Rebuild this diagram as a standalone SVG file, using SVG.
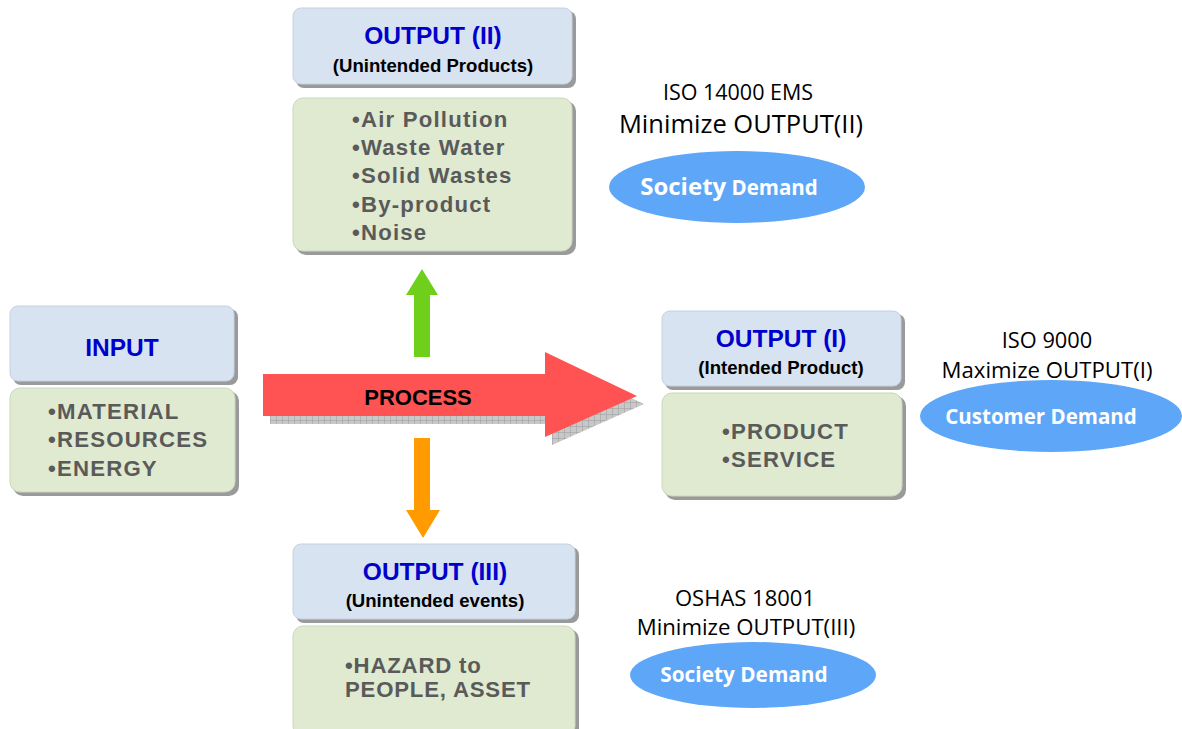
<svg xmlns="http://www.w3.org/2000/svg" width="1182" height="729" viewBox="0 0 1182 729">
<style>
.hd{fill:#d8e3f1;stroke:#c6d2e2;stroke-width:1}
.bd{fill:#dfead0;stroke:#cbd8bd;stroke-width:1}
.sh{fill:#9a9a9a}
.t1{font-family:"Liberation Sans",Arial,sans-serif;font-weight:bold;font-size:24.5px;fill:#0000cc;text-anchor:middle}
.t2{font-family:"Liberation Sans",Arial,sans-serif;font-weight:bold;font-size:18.6px;fill:#000;text-anchor:middle}
.bl{font-family:"Liberation Sans",Arial,sans-serif;font-weight:bold;font-size:22.2px;fill:#5a5a5a;letter-spacing:1.2px}
.nt{font-family:"Open Sans","Liberation Sans",sans-serif;fill:#000;text-anchor:middle}
.el{fill:#5ea6f7}
.et{font-family:"Open Sans","Liberation Sans",sans-serif;font-weight:bold;fill:#fff;text-anchor:middle}
</style>
<defs>
<pattern id="grid" width="6" height="6" patternUnits="userSpaceOnUse">
<rect width="6" height="6" fill="#c8c8c8"/>
<path d="M0 0H6M0 0V6" stroke="#9c9c9c" stroke-width="1"/>
</pattern>
</defs>
<g id="connectors">
<polygon points="270,382 552,382 552,360 644,404 552,445 552,424 270,424" fill="url(#grid)"/>
<polygon points="263,374 545,374 545,352 637,396 545,437 545,416 263,416" fill="#ff5252"/>
<text x="418" y="405" font-family="Liberation Sans,Arial,sans-serif" font-weight="bold" font-size="22" text-anchor="middle" fill="#000">PROCESS</text>
<polygon points="414,357 414,295 406,295 422,269 438,295 430,295 430,357" fill="#6fd01c"/>
<polygon points="414,438 430,438 430,510 440,510 423,538 406,510 414,510" fill="#ff9a00"/>
</g>
<g id="output2">
<rect class="sh" x="296" y="11" width="280" height="77" rx="8"/>
<rect class="hd" x="293" y="8" width="279" height="76" rx="8"/>
<text class="t1" x="433" y="44">OUTPUT (II)</text>
<text class="t2" x="433" y="72">(Unintended Products)</text>
<rect class="sh" x="296" y="101" width="280" height="154" rx="10"/>
<rect class="bd" x="293" y="98" width="279" height="153" rx="10"/>
<text class="bl" x="352" y="127">•Air Pollution</text>
<text class="bl" x="352" y="155">•Waste Water</text>
<text class="bl" x="352" y="183">•Solid Wastes</text>
<text class="bl" x="352" y="212">•By-product</text>
<text class="bl" x="352" y="240">•Noise</text>
</g>
<g id="input">
<rect class="sh" x="13" y="309" width="225" height="76" rx="8"/>
<rect class="hd" x="10" y="306" width="224" height="75" rx="8"/>
<text class="t1" x="122" y="356">INPUT</text>
<rect class="sh" x="13" y="391" width="226" height="105" rx="10"/>
<rect class="bd" x="10" y="388" width="225" height="104" rx="10"/>
<text class="bl" x="48" y="419">•MATERIAL</text>
<text class="bl" x="48" y="447">•RESOURCES</text>
<text class="bl" x="48" y="476">•ENERGY</text>
</g>
<g id="output1">
<rect class="sh" x="665" y="314" width="240" height="76" rx="8"/>
<rect class="hd" x="662" y="311" width="239" height="75" rx="8"/>
<text class="t1" x="781" y="347">OUTPUT (I)</text>
<text class="t2" x="781" y="374">(Intended Product)</text>
<rect class="sh" x="665" y="396" width="241" height="104" rx="10"/>
<rect class="bd" x="662" y="393" width="240" height="103" rx="10"/>
<text class="bl" x="722" y="439">•PRODUCT</text>
<text class="bl" x="722" y="467">•SERVICE</text>
</g>
<g id="output3">
<rect class="sh" x="296" y="547" width="283" height="76" rx="8"/>
<rect class="hd" x="293" y="544" width="282" height="75" rx="8"/>
<text class="t1" x="435" y="580">OUTPUT (III)</text>
<text class="t2" x="435" y="607">(Unintended events)</text>
<rect class="sh" x="296" y="629" width="283" height="110" rx="10"/>
<rect class="bd" x="293" y="626" width="282" height="110" rx="10"/>
<text class="bl" x="345" y="673" style="letter-spacing:0.8px">•HAZARD to</text>
<text class="bl" x="345" y="697" style="letter-spacing:0.8px">PEOPLE, ASSET</text>
</g>
<g id="iso14000">
<text class="nt" x="738" y="100" font-size="21.5">ISO 14000 EMS</text>
<text class="nt" x="741" y="133" font-size="25.5">Minimize OUTPUT(II)</text>
<ellipse class="el" cx="737" cy="187" rx="128" ry="36"/>
<text class="et" x="729" y="195"><tspan font-size="24">Society</tspan><tspan font-size="20.5"> Demand</tspan></text>
</g>
<g id="iso9000">
<text class="nt" x="1047" y="348" font-size="21.8">ISO 9000</text>
<text class="nt" x="1047" y="378" font-size="22.2">Maximize OUTPUT(I)</text>
<ellipse class="el" cx="1051" cy="416" rx="131" ry="36"/>
<text class="et" x="1041" y="424" font-size="20.5">Customer Demand</text>
</g>
<g id="oshas">
<text class="nt" x="745" y="606" font-size="22">OSHAS 18001</text>
<text class="nt" x="746" y="635" font-size="22.2">Minimize OUTPUT(III)</text>
<ellipse class="el" cx="753" cy="675" rx="123" ry="33"/>
<text class="et" x="744" y="682" font-size="20.8">Society Demand</text>
</g>
</svg>
